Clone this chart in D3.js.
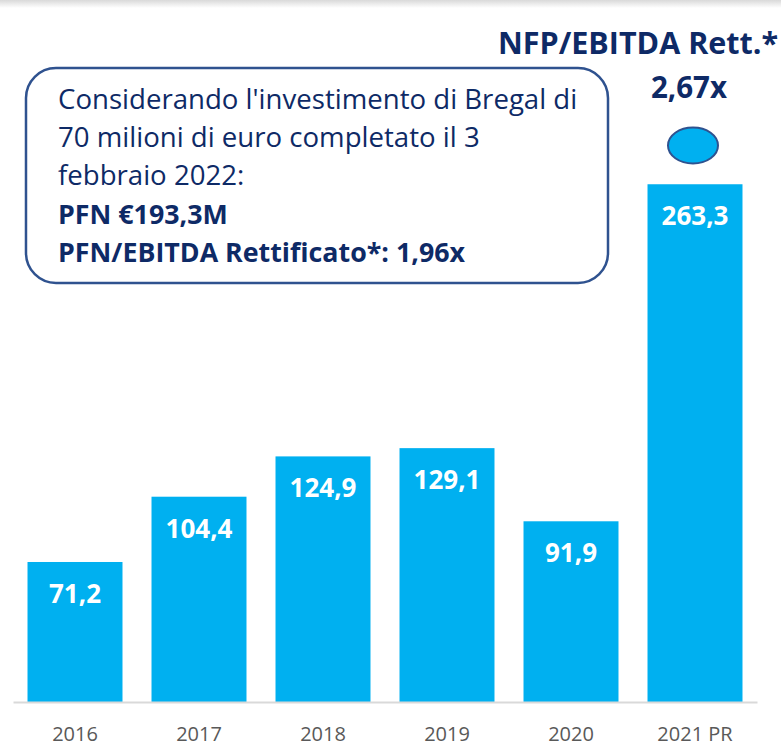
<!DOCTYPE html>
<html>
<head>
<meta charset="utf-8">
<script src="https://cdn.jsdelivr.net/npm/d3@7"></script>
<style>
  body { margin: 0; background: #fff; }
  svg { display: block; font-family: "Open Sans", Lato, sans-serif; }
</style>
</head>
<body>
<script>
// NFP per year (EUR M)
const years = ["2016", "2017", "2018", "2019", "2020", "2021 PR"];
const nfp = [71.2, 104.4, 124.9, 129.1, 91.9, 263.3];
const valueLabels = ["71,2", "104,4", "124,9", "129,1", "91,9", "263,3"];

const noteLines = [
    { text: "Considerando l'investimento di Bregal di", bold: false },
    { text: "70 milioni di euro completato il 3", bold: false },
    { text: "febbraio 2022:", bold: false },
    { text: "PFN €193,3M", bold: true },
    { text: "PFN/EBITDA Rettificato*: 1,96x", bold: true }
];
const ratioTitle = "NFP/EBITDA Rett.*";
const ratioValue = "2,67x";

const width = 781, height = 750;
const barColor = "#00b0f0";
const navy = "#0e2a66";

const svg = d3.select("body").append("svg")
    .attr("width", width)
    .attr("height", height);

// faint shadow along the top edge
let defs = svg.append("defs");
let grad = defs.append("linearGradient")
    .attr("id", "topShade")
    .attr("x1", 0).attr("x2", 0).attr("y1", 0).attr("y2", 1);
grad.append("stop").attr("offset", 0).attr("stop-color", "#d9d9d9");
grad.append("stop").attr("offset", 1).attr("stop-color", "#ffffff");
svg.append("rect")
    .attr("x", 0).attr("y", 0)
    .attr("width", width).attr("height", 8)
    .attr("fill", "url(#topShade)");

let x = d3.scaleBand()
    .domain(years)
    .range([13, 757])
    .paddingInner(0.234)
    .paddingOuter(0.117);

let y = d3.scaleLinear()
    .domain([0, 357])
    .range([702, 0]);

// bars
svg.append("g")
    .selectAll("rect")
    .data(years)
    .enter().append("rect")
    .attr("x", d => x(d))
    .attr("y", (d, i) => y(nfp[i]))
    .attr("width", x.bandwidth())
    .attr("height", (d, i) => y(0) - y(nfp[i]))
    .attr("fill", barColor);

// value labels inside bars
svg.append("g")
    .selectAll("text")
    .data(years)
    .enter().append("text")
    .attr("x", d => x(d) + x.bandwidth() / 2)
    .attr("y", (d, i) => y(nfp[i]) + 41)
    .attr("text-anchor", "middle")
    .attr("fill", "#ffffff")
    .attr("font-weight", "bold")
    .attr("font-size", 26)
    .text((d, i) => valueLabels[i]);

// x axis
let xAxis = svg.append("g")
    .attr("transform", "translate(0," + y(0) + ")")
    .call(d3.axisBottom(x).tickSize(0).tickPadding(25));
xAxis.select(".domain")
    .attr("stroke", "#d9d9d9")
    .attr("stroke-width", 2);
xAxis.selectAll("text")
    .attr("fill", "#595959")
    .attr("font-size", 20)
    .attr("font-family", "'Open Sans', Lato, sans-serif");

// callout box
svg.append("rect")
    .attr("x", 26).attr("y", 68)
    .attr("width", 582).attr("height", 215)
    .attr("rx", 30).attr("ry", 30)
    .attr("fill", "#ffffff")
    .attr("stroke", "#2f528f")
    .attr("stroke-width", 2.5);

svg.append("g")
    .selectAll("text")
    .data(noteLines)
    .enter().append("text")
    .attr("x", 58)
    .attr("y", (d, i) => 109 + i * 38.2)
    .attr("fill", navy)
    .attr("font-size", d => d.bold ? 26.8 : 27.6)
    .attr("font-weight", d => d.bold ? "bold" : "normal")
    .text(d => d.text);

// ratio annotation above the last bar
svg.append("text")
    .attr("x", 498).attr("y", 54)
    .attr("fill", navy)
    .attr("font-weight", "bold")
    .attr("font-size", 30.5)
    .text(ratioTitle);

svg.append("text")
    .attr("x", 689).attr("y", 98)
    .attr("text-anchor", "middle")
    .attr("fill", navy)
    .attr("font-weight", "bold")
    .attr("font-size", 29.5)
    .text(ratioValue);

svg.append("ellipse")
    .attr("cx", 693).attr("cy", 145.5)
    .attr("rx", 25).attr("ry", 18)
    .attr("fill", barColor)
    .attr("stroke", "#2f528f")
    .attr("stroke-width", 2);
</script>
</body>
</html>
